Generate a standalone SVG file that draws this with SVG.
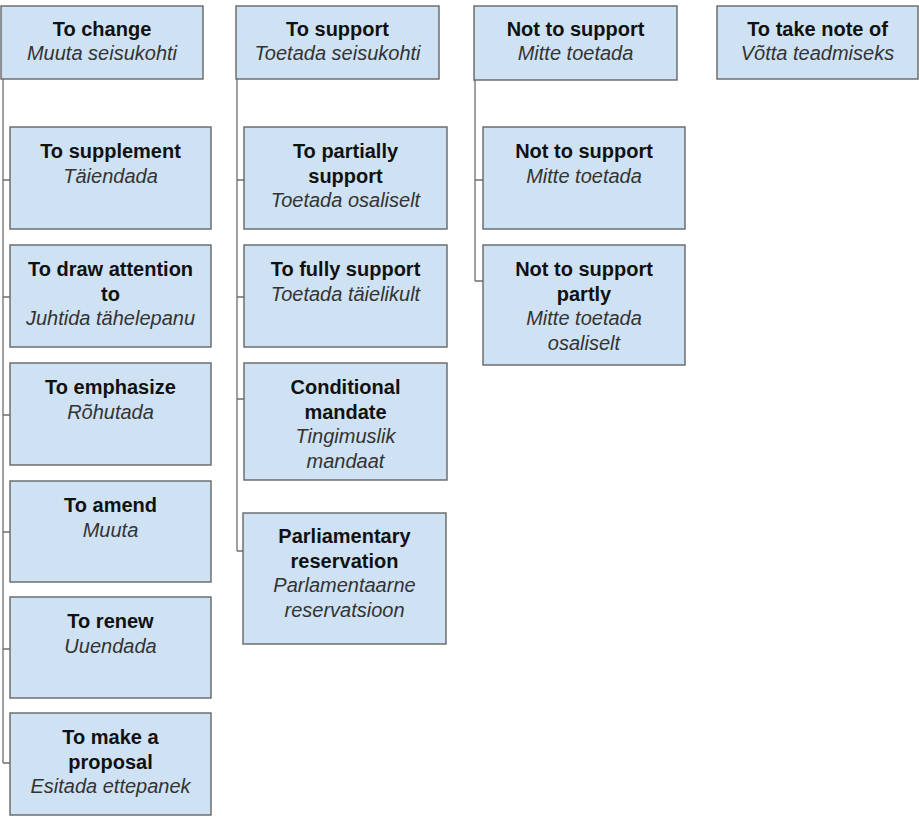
<svg xmlns="http://www.w3.org/2000/svg" width="919" height="818" viewBox="0 0 919 818">
<style>
.box{fill:#cfe2f3;stroke:#666666;stroke-width:1.4}
.t{font-family:"Liberation Sans",Arial,sans-serif;font-size:20px;text-anchor:middle}
.b{font-weight:bold;fill:#111111}
.i{font-style:italic;fill:#333333}
.conn{fill:none;stroke:#6e6e6e;stroke-width:1.3}
</style>
<rect width="919" height="818" fill="#ffffff"/>
<g id="connectors">
<path class="conn" d="M3,79 V763 M3,180 H10 M3,297 H10 M3,415 H10 M3,532 H10 M3,649 H10 M3,763 H10"/>
<path class="conn" d="M237,79 V551 M237,180 H244 M237,297 H244 M237,399 H244 M237,551 H244"/>
<path class="conn" d="M475,80 V281 M475,180 H483 M475,281 H483"/>
</g>
<g id="to-change"><rect class="box" x="1" y="6" width="202" height="73"/><text class="t b" x="102" y="36">To change</text><text class="t i" x="102" y="60">Muuta seisukohti</text></g>
<g id="to-supplement"><rect class="box" x="10" y="127" width="201" height="102"/><text class="t b" x="110.5" y="158">To supplement</text><text class="t i" x="110.5" y="182.5">Täiendada</text></g>
<g id="to-draw-attention"><rect class="box" x="10" y="245" width="201" height="102"/><text class="t b" x="110.5" y="276">To draw attention</text><text class="t b" x="110.5" y="300.5">to</text><text class="t i" x="110.5" y="325">Juhtida tähelepanu</text></g>
<g id="to-emphasize"><rect class="box" x="10" y="363" width="201" height="102"/><text class="t b" x="110.5" y="394">To emphasize</text><text class="t i" x="110.5" y="418.5">Rõhutada</text></g>
<g id="to-amend"><rect class="box" x="10" y="481" width="201" height="101"/><text class="t b" x="110.5" y="512">To amend</text><text class="t i" x="110.5" y="536.5">Muuta</text></g>
<g id="to-renew"><rect class="box" x="10" y="597" width="201" height="101"/><text class="t b" x="110.5" y="628">To renew</text><text class="t i" x="110.5" y="652.5">Uuendada</text></g>
<g id="to-make-a-proposal"><rect class="box" x="10" y="713" width="201" height="102"/><text class="t b" x="110.5" y="744">To make a</text><text class="t b" x="110.5" y="768.5">proposal</text><text class="t i" x="110.5" y="793">Esitada ettepanek</text></g>
<g id="to-support"><rect class="box" x="236" y="6" width="203" height="73"/><text class="t b" x="337.5" y="36">To support</text><text class="t i" x="337.5" y="60">Toetada seisukohti</text></g>
<g id="to-partially-support"><rect class="box" x="244" y="127" width="203" height="102"/><text class="t b" x="345.5" y="158">To partially</text><text class="t b" x="345.5" y="182.5">support</text><text class="t i" x="345.5" y="207">Toetada osaliselt</text></g>
<g id="to-fully-support"><rect class="box" x="244" y="245" width="203" height="102"/><text class="t b" x="345.5" y="276">To fully support</text><text class="t i" x="345.5" y="300.5">Toetada täielikult</text></g>
<g id="conditional-mandate"><rect class="box" x="244" y="363" width="203" height="117"/><text class="t b" x="345.5" y="394">Conditional</text><text class="t b" x="345.5" y="418.5">mandate</text><text class="t i" x="345.5" y="443">Tingimuslik</text><text class="t i" x="345.5" y="467.5">mandaat</text></g>
<g id="parliamentary-reservation"><rect class="box" x="243" y="513" width="203" height="131"/><text class="t b" x="344.5" y="543">Parliamentary</text><text class="t b" x="344.5" y="567.5">reservation</text><text class="t i" x="344.5" y="592">Parlamentaarne</text><text class="t i" x="344.5" y="616.5">reservatsioon</text></g>
<g id="not-to-support"><rect class="box" x="474" y="6" width="203" height="74"/><text class="t b" x="575.5" y="36">Not to support</text><text class="t i" x="575.5" y="60">Mitte toetada</text></g>
<g id="not-to-support-2"><rect class="box" x="483" y="127" width="202" height="102"/><text class="t b" x="584" y="158">Not to support</text><text class="t i" x="584" y="182.5">Mitte toetada</text></g>
<g id="not-to-support-partly"><rect class="box" x="483" y="245" width="202" height="120"/><text class="t b" x="584" y="276">Not to support</text><text class="t b" x="584" y="300.5">partly</text><text class="t i" x="584" y="325">Mitte toetada</text><text class="t i" x="584" y="349.5">osaliselt</text></g>
<g id="to-take-note-of"><rect class="box" x="717" y="6" width="201" height="73"/><text class="t b" x="817.5" y="36">To take note of</text><text class="t i" x="817.5" y="60">Võtta teadmiseks</text></g>
</svg>
